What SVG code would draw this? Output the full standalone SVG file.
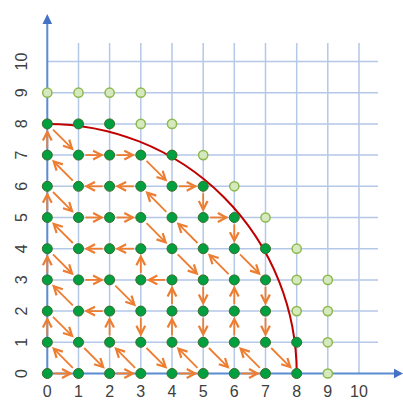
<svg xmlns="http://www.w3.org/2000/svg" width="403" height="401" viewBox="0 0 403 401">
<defs>
<style>
.grid{stroke:#B4C8E8;stroke-width:1.5;fill:none}
.axis{stroke:#5B8BD0;stroke-width:2;fill:none}
.lbl{font-family:"Liberation Sans",Arial,sans-serif;font-size:16px;fill:#404040;text-anchor:middle}
.arc{stroke:#C00000;stroke-width:2;fill:none}
.ar{stroke:#ED7D31;stroke-width:1.8;fill:none;marker-end:url(#ah)}
.dk{fill:#00A040;stroke:#3E6B2A;stroke-width:1}
.lt{fill:#D6E8BE;stroke:#8CB94E;stroke-width:1.5}
</style>
<marker id="ah" viewBox="0 0 10 10" refX="8.5" refY="5" markerWidth="10" markerHeight="10" markerUnits="userSpaceOnUse" orient="auto" overflow="visible">
<path d="M0,0.6 L8.5,5 L0,9.4" fill="none" stroke="#ED7D31" stroke-width="2.2" stroke-linejoin="miter"/>
</marker>
</defs>
<rect width="403" height="401" fill="#FFFFFF"/>
<g id="grid">
<path class="grid" d="M78.5,43V373.5M109.6,43V373.5M140.8,43V373.5M172,43V373.5M203.2,43V373.5M234.3,43V373.5M265.5,43V373.5M296.7,43V373.5M327.8,43V373.5M359,43V373.5"/>
<path class="grid" d="M47.3,342.3H378M47.3,311.1H378M47.3,279.9H378M47.3,248.7H378M47.3,217.5H378M47.3,186.3H378M47.3,155.1H378M47.3,123.9H378M47.3,92.7H378M47.3,61.5H378"/>
</g>
<g id="axes">
<path class="axis" d="M47.3,373.5V23"/>
<path class="axis" d="M47.3,373.5H395"/>
<polygon points="47.3,14 42.5,24 52.1,24" fill="#4472C4"/>
<polygon points="403,373.5 394,368.7 394,378.3" fill="#4472C4"/>
</g>
<g id="labels">
<text class="lbl" x="47.3" y="397">0</text>
<text class="lbl" x="78.5" y="397">1</text>
<text class="lbl" x="109.6" y="397">2</text>
<text class="lbl" x="140.8" y="397">3</text>
<text class="lbl" x="172" y="397">4</text>
<text class="lbl" x="203.2" y="397">5</text>
<text class="lbl" x="234.3" y="397">6</text>
<text class="lbl" x="265.5" y="397">7</text>
<text class="lbl" x="296.7" y="397">8</text>
<text class="lbl" x="327.8" y="397">9</text>
<text class="lbl" x="359" y="397">10</text>
<text class="lbl" transform="translate(26.5,373.5) rotate(-90)">0</text>
<text class="lbl" transform="translate(26.5,342.3) rotate(-90)">1</text>
<text class="lbl" transform="translate(26.5,311.1) rotate(-90)">2</text>
<text class="lbl" transform="translate(26.5,279.9) rotate(-90)">3</text>
<text class="lbl" transform="translate(26.5,248.7) rotate(-90)">4</text>
<text class="lbl" transform="translate(26.5,217.5) rotate(-90)">5</text>
<text class="lbl" transform="translate(26.5,186.3) rotate(-90)">6</text>
<text class="lbl" transform="translate(26.5,155.1) rotate(-90)">7</text>
<text class="lbl" transform="translate(26.5,123.9) rotate(-90)">8</text>
<text class="lbl" transform="translate(26.5,92.7) rotate(-90)">9</text>
<text class="lbl" transform="translate(26.5,61.5) rotate(-90)">10</text>
</g>
<g id="arc">
<path class="arc" d="M47.3,123.9 A249.4,249.6 0 0 1 296.7,373.5"/>
</g>
<g id="connectors">
<line class="ar" x1="54.3" y1="373.5" x2="70.5" y2="373.5"/>
<line class="ar" x1="72.8" y1="367.8" x2="53.7" y2="348.7"/>
<line class="ar" x1="47.3" y1="335.3" x2="47.3" y2="319.1"/>
<line class="ar" x1="53" y1="316.8" x2="72.1" y2="335.9"/>
<line class="ar" x1="84.2" y1="348" x2="103.2" y2="367.1"/>
<line class="ar" x1="116.6" y1="373.5" x2="132.8" y2="373.5"/>
<line class="ar" x1="135.1" y1="367.8" x2="116" y2="348.7"/>
<line class="ar" x1="109.6" y1="335.3" x2="109.6" y2="319.1"/>
<line class="ar" x1="102.6" y1="311.1" x2="86.5" y2="311.1"/>
<line class="ar" x1="72.8" y1="305.4" x2="53.7" y2="286.3"/>
<line class="ar" x1="47.3" y1="272.9" x2="47.3" y2="256.7"/>
<line class="ar" x1="53" y1="254.4" x2="72.1" y2="273.5"/>
<line class="ar" x1="85.5" y1="279.9" x2="101.6" y2="279.9"/>
<line class="ar" x1="115.3" y1="285.6" x2="134.4" y2="304.7"/>
<line class="ar" x1="140.8" y1="318.1" x2="140.8" y2="334.3"/>
<line class="ar" x1="146.5" y1="348" x2="165.6" y2="367.1"/>
<line class="ar" x1="179" y1="373.5" x2="195.2" y2="373.5"/>
<line class="ar" x1="197.5" y1="367.8" x2="178.4" y2="348.7"/>
<line class="ar" x1="172" y1="335.3" x2="172" y2="319.1"/>
<line class="ar" x1="172" y1="304.1" x2="172" y2="287.9"/>
<line class="ar" x1="165" y1="279.9" x2="148.8" y2="279.9"/>
<line class="ar" x1="140.8" y1="272.9" x2="140.8" y2="256.7"/>
<line class="ar" x1="133.8" y1="248.7" x2="117.6" y2="248.7"/>
<line class="ar" x1="102.6" y1="248.7" x2="86.5" y2="248.7"/>
<line class="ar" x1="72.8" y1="243" x2="53.7" y2="223.9"/>
<line class="ar" x1="47.3" y1="210.5" x2="47.3" y2="194.3"/>
<line class="ar" x1="53" y1="192" x2="72.1" y2="211.1"/>
<line class="ar" x1="85.5" y1="217.5" x2="101.6" y2="217.5"/>
<line class="ar" x1="116.6" y1="217.5" x2="132.8" y2="217.5"/>
<line class="ar" x1="146.5" y1="223.2" x2="165.6" y2="242.3"/>
<line class="ar" x1="177.7" y1="254.4" x2="196.8" y2="273.5"/>
<line class="ar" x1="203.2" y1="286.9" x2="203.2" y2="303.1"/>
<line class="ar" x1="203.2" y1="318.1" x2="203.2" y2="334.3"/>
<line class="ar" x1="208.9" y1="348" x2="227.9" y2="367.1"/>
<line class="ar" x1="241.3" y1="373.5" x2="257.5" y2="373.5"/>
<line class="ar" x1="259.8" y1="367.8" x2="240.7" y2="348.7"/>
<line class="ar" x1="234.3" y1="335.3" x2="234.3" y2="319.1"/>
<line class="ar" x1="234.3" y1="304.1" x2="234.3" y2="287.9"/>
<line class="ar" x1="228.6" y1="274.2" x2="209.6" y2="255.1"/>
<line class="ar" x1="197.5" y1="243" x2="178.4" y2="223.9"/>
<line class="ar" x1="166.3" y1="211.8" x2="147.2" y2="192.7"/>
<line class="ar" x1="133.8" y1="186.3" x2="117.6" y2="186.3"/>
<line class="ar" x1="102.6" y1="186.3" x2="86.5" y2="186.3"/>
<line class="ar" x1="72.8" y1="180.6" x2="53.7" y2="161.5"/>
<line class="ar" x1="47.3" y1="148.1" x2="47.3" y2="131.9"/>
<line class="ar" x1="53" y1="129.6" x2="72.1" y2="148.7"/>
<line class="ar" x1="85.5" y1="155.1" x2="101.6" y2="155.1"/>
<line class="ar" x1="116.6" y1="155.1" x2="132.8" y2="155.1"/>
<line class="ar" x1="146.5" y1="160.8" x2="165.6" y2="179.9"/>
<line class="ar" x1="179" y1="186.3" x2="195.2" y2="186.3"/>
<line class="ar" x1="203.2" y1="193.3" x2="203.2" y2="209.5"/>
<line class="ar" x1="210.2" y1="217.5" x2="226.3" y2="217.5"/>
<line class="ar" x1="234.3" y1="224.5" x2="234.3" y2="240.7"/>
<line class="ar" x1="240" y1="254.4" x2="259.1" y2="273.5"/>
<line class="ar" x1="265.5" y1="286.9" x2="265.5" y2="303.1"/>
<line class="ar" x1="265.5" y1="318.1" x2="265.5" y2="334.3"/>
<line class="ar" x1="271.2" y1="348" x2="290.3" y2="367.1"/>
</g>
<g id="light-nodes">
<circle class="lt" cx="47.3" cy="92.7" r="4.6"/>
<circle class="lt" cx="78.5" cy="92.7" r="4.6"/>
<circle class="lt" cx="109.6" cy="92.7" r="4.6"/>
<circle class="lt" cx="140.8" cy="92.7" r="4.6"/>
<circle class="lt" cx="140.8" cy="123.9" r="4.6"/>
<circle class="lt" cx="172" cy="123.9" r="4.6"/>
<circle class="lt" cx="203.2" cy="155.1" r="4.6"/>
<circle class="lt" cx="234.3" cy="186.3" r="4.6"/>
<circle class="lt" cx="265.5" cy="217.5" r="4.6"/>
<circle class="lt" cx="296.7" cy="248.7" r="4.6"/>
<circle class="lt" cx="296.7" cy="279.9" r="4.6"/>
<circle class="lt" cx="296.7" cy="311.1" r="4.6"/>
<circle class="lt" cx="327.8" cy="279.9" r="4.6"/>
<circle class="lt" cx="327.8" cy="311.1" r="4.6"/>
<circle class="lt" cx="327.8" cy="342.3" r="4.6"/>
<circle class="lt" cx="327.8" cy="373.5" r="4.6"/>
</g>
<g id="dark-nodes">
<circle class="dk" cx="47.3" cy="123.9" r="5"/><circle class="dk" cx="78.5" cy="123.9" r="5"/><circle class="dk" cx="109.6" cy="123.9" r="5"/>
<circle class="dk" cx="47.3" cy="155.1" r="5"/><circle class="dk" cx="78.5" cy="155.1" r="5"/><circle class="dk" cx="109.6" cy="155.1" r="5"/><circle class="dk" cx="140.8" cy="155.1" r="5"/><circle class="dk" cx="172" cy="155.1" r="5"/>
<circle class="dk" cx="47.3" cy="186.3" r="5"/><circle class="dk" cx="78.5" cy="186.3" r="5"/><circle class="dk" cx="109.6" cy="186.3" r="5"/><circle class="dk" cx="140.8" cy="186.3" r="5"/><circle class="dk" cx="172" cy="186.3" r="5"/><circle class="dk" cx="203.2" cy="186.3" r="5"/>
<circle class="dk" cx="47.3" cy="217.5" r="5"/><circle class="dk" cx="78.5" cy="217.5" r="5"/><circle class="dk" cx="109.6" cy="217.5" r="5"/><circle class="dk" cx="140.8" cy="217.5" r="5"/><circle class="dk" cx="172" cy="217.5" r="5"/><circle class="dk" cx="203.2" cy="217.5" r="5"/><circle class="dk" cx="234.3" cy="217.5" r="5"/>
<circle class="dk" cx="47.3" cy="248.7" r="5"/><circle class="dk" cx="78.5" cy="248.7" r="5"/><circle class="dk" cx="109.6" cy="248.7" r="5"/><circle class="dk" cx="140.8" cy="248.7" r="5"/><circle class="dk" cx="172" cy="248.7" r="5"/><circle class="dk" cx="203.2" cy="248.7" r="5"/><circle class="dk" cx="234.3" cy="248.7" r="5"/><circle class="dk" cx="265.5" cy="248.7" r="5"/>
<circle class="dk" cx="47.3" cy="279.9" r="5"/><circle class="dk" cx="78.5" cy="279.9" r="5"/><circle class="dk" cx="109.6" cy="279.9" r="5"/><circle class="dk" cx="140.8" cy="279.9" r="5"/><circle class="dk" cx="172" cy="279.9" r="5"/><circle class="dk" cx="203.2" cy="279.9" r="5"/><circle class="dk" cx="234.3" cy="279.9" r="5"/><circle class="dk" cx="265.5" cy="279.9" r="5"/>
<circle class="dk" cx="47.3" cy="311.1" r="5"/><circle class="dk" cx="78.5" cy="311.1" r="5"/><circle class="dk" cx="109.6" cy="311.1" r="5"/><circle class="dk" cx="140.8" cy="311.1" r="5"/><circle class="dk" cx="172" cy="311.1" r="5"/><circle class="dk" cx="203.2" cy="311.1" r="5"/><circle class="dk" cx="234.3" cy="311.1" r="5"/><circle class="dk" cx="265.5" cy="311.1" r="5"/>
<circle class="dk" cx="47.3" cy="342.3" r="5"/><circle class="dk" cx="78.5" cy="342.3" r="5"/><circle class="dk" cx="109.6" cy="342.3" r="5"/><circle class="dk" cx="140.8" cy="342.3" r="5"/><circle class="dk" cx="172" cy="342.3" r="5"/><circle class="dk" cx="203.2" cy="342.3" r="5"/><circle class="dk" cx="234.3" cy="342.3" r="5"/><circle class="dk" cx="265.5" cy="342.3" r="5"/><circle class="dk" cx="296.7" cy="342.3" r="5"/>
<circle class="dk" cx="47.3" cy="373.5" r="5"/><circle class="dk" cx="78.5" cy="373.5" r="5"/><circle class="dk" cx="109.6" cy="373.5" r="5"/><circle class="dk" cx="140.8" cy="373.5" r="5"/><circle class="dk" cx="172" cy="373.5" r="5"/><circle class="dk" cx="203.2" cy="373.5" r="5"/><circle class="dk" cx="234.3" cy="373.5" r="5"/><circle class="dk" cx="265.5" cy="373.5" r="5"/><circle class="dk" cx="296.7" cy="373.5" r="5"/>
</g>
</svg>
